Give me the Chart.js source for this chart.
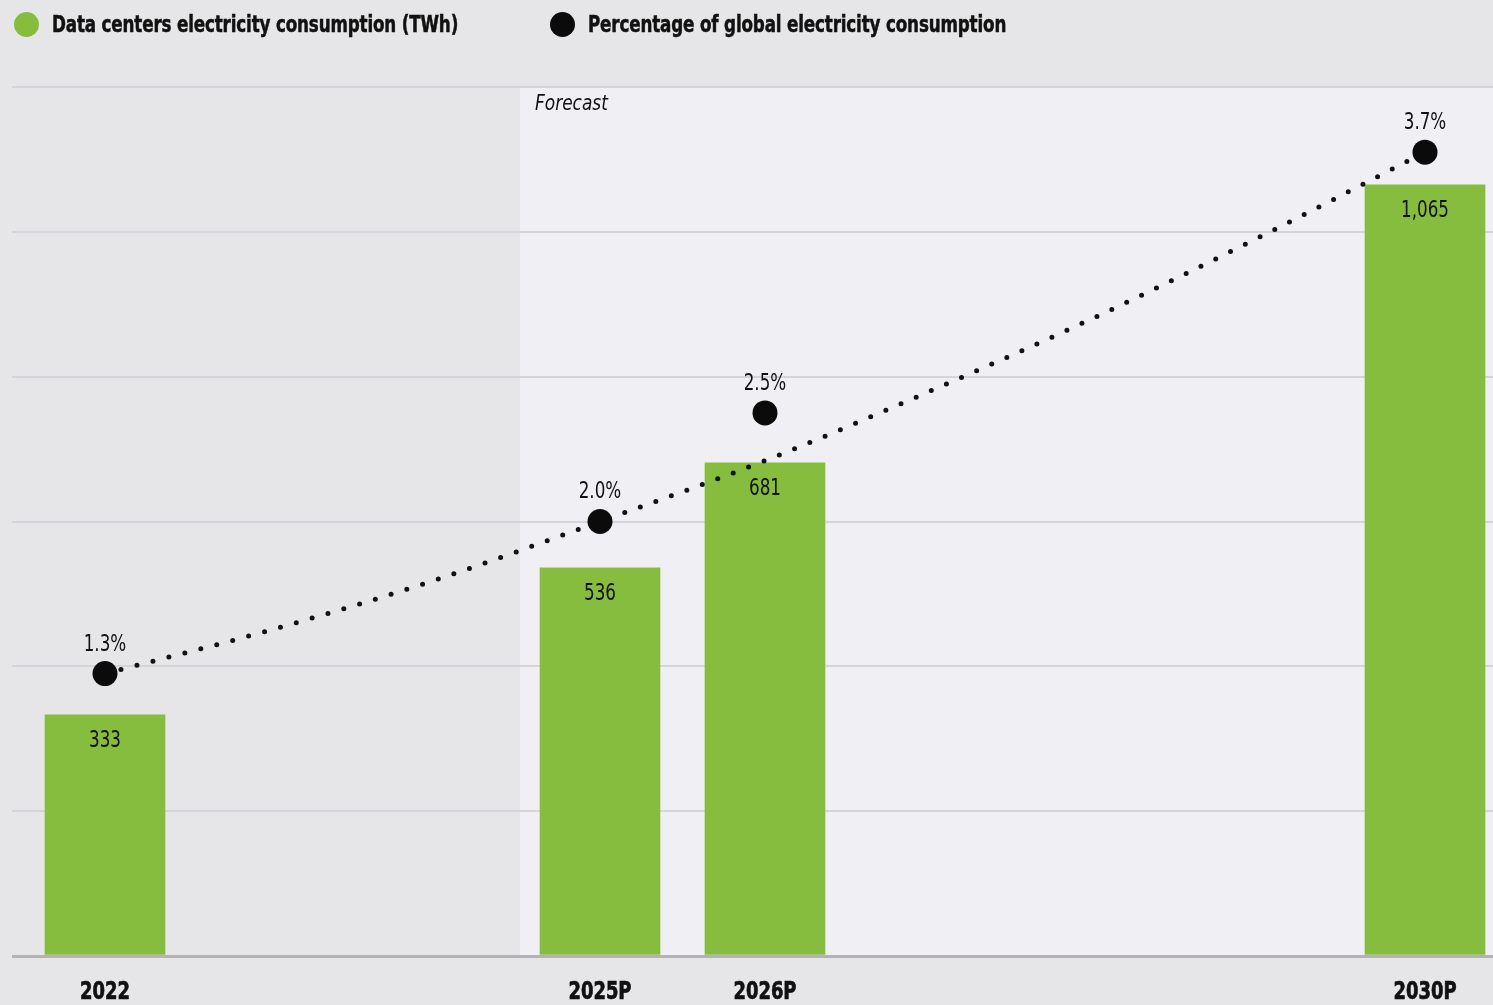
<!DOCTYPE html>
<html>
<head>
<meta charset="utf-8">
<script src="https://cdn.jsdelivr.net/npm/chart.js@4.4.1/dist/chart.umd.min.js"></script>
<style>
  html, body { margin: 0; padding: 0; background: #e6e6e8; }
  #wrap { position: relative; width: 1493px; height: 1005px; overflow: hidden; }
  canvas { position: absolute; left: 0; top: 0; }
  .legend { position: absolute; top: 0; height: 48px; display: flex; align-items: center;
    font-family: 'DejaVu Sans Condensed', 'DejaVu Sans', sans-serif; font-weight: bold;
    font-size: 23px; color: #111; white-space: nowrap; }
  .legend .dot { width: 25px; height: 25px; border-radius: 50%; margin-right: 13px; flex: none; }
  .legend .txt { display: inline-block; transform: scaleX(0.81); transform-origin: 0 50%; letter-spacing: -0.2px;
    -webkit-text-stroke: 0.5px #111; }
</style>
</head>
<body>
<div id="wrap">
  <canvas id="c" width="1493" height="1005"></canvas>
  <div class="legend" style="left:14px"><span class="dot" style="background:#86bd3f"></span><span class="txt" id="lg1"></span></div>
  <div class="legend" style="left:550px"><span class="dot" style="background:#0b0b0b"></span><span class="txt" id="lg2"></span></div>
</div>
<script>
// ---- data ----
const seriesNames = ['Data centers electricity consumption (TWh)', 'Percentage of global electricity consumption'];
const years = [2022, 2025, 2026, 2030];
const yearLabels = ['2022', '2025P', '2026P', '2030P'];
const consumptionTWh = [333, 536, 681, 1065];
const sharePct = [1.3, 2.0, 2.5, 3.7];
// dotted trend line at each year
const trendYears = [2022, 2023, 2024, 2025, 2026, 2027, 2028, 2029, 2030];
const trendPct = [1.3, 1.50, 1.73, 2.0, 2.28, 2.60, 2.94, 3.31, 3.7];
const forecastStart = 2024.515;
const forecastLabel = 'Forecast';

document.getElementById('lg1').textContent = seriesNames[0];
document.getElementById('lg2').textContent = seriesNames[1];

const FONT = "'DejaVu Sans Condensed', 'DejaVu Sans', sans-serif";
const GREEN = '#86bd3f';
const SQUEEZE = 0.81;

function squeezedText(ctx, text, x, y, sx, stroke) {
  ctx.save();
  ctx.translate(x, y);
  ctx.scale(sx, 1);
  ctx.fillText(text, 0, 0);
  if (stroke) { ctx.lineWidth = stroke; ctx.strokeStyle = ctx.fillStyle; ctx.strokeText(text, 0, 0); }
  ctx.restore();
}

const bgPlugin = {
  id: 'bg',
  beforeDraw(chart) {
    const { ctx, chartArea: a, scales: { x } } = chart;
    ctx.save();
    ctx.fillStyle = '#e6e6e8';
    ctx.fillRect(0, 0, chart.width, chart.height);
    const fx = x.getPixelForValue(forecastStart);
    ctx.fillStyle = '#f0f0f4';
    ctx.fillRect(fx, a.top, a.right - fx, a.bottom - a.top);
    ctx.fillStyle = '#111';
    ctx.font = 'italic 21px ' + FONT;
    ctx.textBaseline = 'middle';
    ctx.textAlign = 'left';
    squeezedText(ctx, forecastLabel, fx + 15, a.top + 18, 0.9);
    ctx.restore();
  }
};

const labelPlugin = {
  id: 'labels',
  afterDatasetsDraw(chart) {
    const { ctx, chartArea: a, scales: { x } } = chart;
    ctx.save();
    ctx.fillStyle = '#111';
    ctx.textAlign = 'center';
    ctx.textBaseline = 'middle';
    ctx.font = '23px ' + FONT;
    const barMeta = chart.getDatasetMeta(2);
    barMeta.data.forEach((el, i) => {
      squeezedText(ctx, consumptionTWh[i].toLocaleString('en-US'), el.x, el.y + 26, SQUEEZE);
    });
    const dotMeta = chart.getDatasetMeta(0);
    dotMeta.data.forEach((el, i) => {
      squeezedText(ctx, sharePct[i].toFixed(1) + '%', el.x, el.y - 29, SQUEEZE);
    });
    // x axis category labels
    ctx.font = 'bold 24px ' + FONT;
    years.forEach((yv, i) => {
      squeezedText(ctx, yearLabels[i], x.getPixelForValue(yv), a.bottom + 37, 0.83, 0.7);
    });
    ctx.restore();
  }
};

new Chart(document.getElementById('c'), {
  data: {
    datasets: [
      {
        type: 'scatter', label: seriesNames[1], yAxisID: 'y1',
        data: years.map((y, i) => ({ x: y, y: sharePct[i] })),
        pointRadius: 12.5, pointBackgroundColor: '#0b0b0b', pointBorderWidth: 0, order: 0
      },
      {
        type: 'line', label: 'trend', yAxisID: 'y1',
        data: trendYears.map((y, i) => ({ x: y, y: trendPct[i] })),
        borderColor: '#111', borderWidth: 5, borderDash: [0, 16.5], borderCapStyle: 'round',
        pointRadius: 0, cubicInterpolationMode: 'monotone', fill: false, order: 1
      },
      {
        type: 'bar', label: seriesNames[0], yAxisID: 'y',
        data: years.map((y, i) => ({ x: y, y: consumptionTWh[i] })),
        backgroundColor: GREEN, barThickness: 120, borderWidth: 0, order: 2
      }
    ]
  },
  options: {
    responsive: false, animation: false,
    layout: { autoPadding: false, padding: { left: 12, right: 0, top: 87, bottom: 49 } },
    plugins: { legend: { display: false }, tooltip: { enabled: false } },
    scales: {
      x: {
        type: 'linear', min: 2021.4364, max: 2030.4121, offset: false,
        grid: { display: false, drawTicks: false },
        border: { display: false },
        ticks: { display: false }
      },
      y: {
        min: 0, max: 1200,
        ticks: { display: false, stepSize: 200 },
        border: { display: false },
        grid: {
          drawTicks: false,
          color: (c) => c.tick && c.tick.value === 0 ? '#b3b3b6' : '#d5d5d9',
          lineWidth: (c) => c.tick && c.tick.value === 0 ? 3 : 2
        }
      },
      y1: { min: 0, max: 4, display: false }
    }
  },
  plugins: [bgPlugin, labelPlugin]
});
</script>
</body>
</html>
